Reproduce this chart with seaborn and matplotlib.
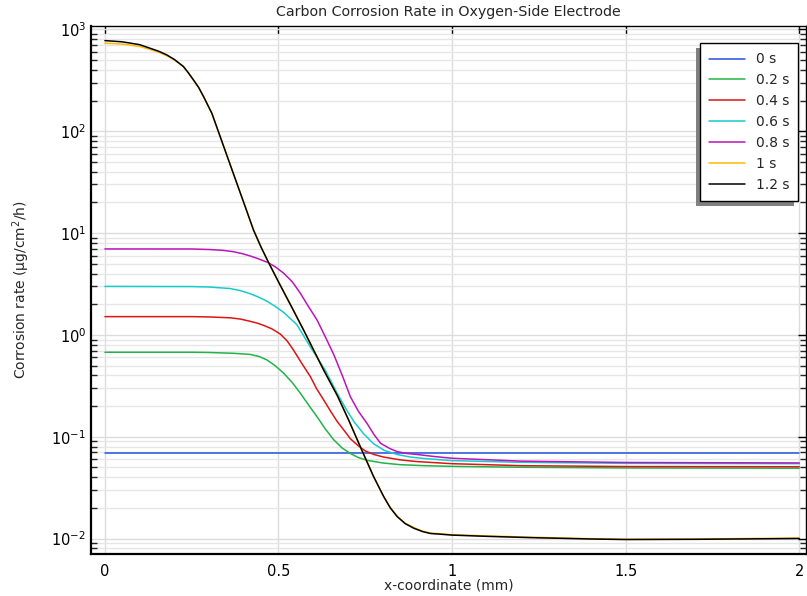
import numpy as np
import pandas as pd
import matplotlib
matplotlib.use('Agg')
import matplotlib.pyplot as plt
import matplotlib.ticker as mticker
from matplotlib.patches import Rectangle
import seaborn as sns

# values (x in mm, rate in ug/cm2/h)
labels = ['0 s', '0.2 s', '0.4 s', '0.6 s', '0.8 s', '1 s', '1.2 s']
colors = ['#2450e0', '#22b448', '#dd1515', '#15cccc', '#bb15bb', '#ffbb00', '#000000']

x_0 = [0.0, 2.0]
rate_0 = [0.069, 0.069]

x_02 = [0, 0.25, 0.30, 0.37, 0.418, 0.445, 0.467, 0.49, 0.515, 0.54, 0.563, 0.587, 0.611, 0.635,
        0.659, 0.683, 0.707, 0.73, 0.755, 0.80, 0.85, 0.92, 1.0, 1.2, 1.5, 2.0]
rate_02 = [0.675, 0.675, 0.671, 0.659, 0.643, 0.612, 0.566, 0.499, 0.420, 0.339, 0.267, 0.204,
           0.157, 0.119, 0.0933, 0.0776, 0.0684, 0.0624, 0.0586, 0.0552, 0.0531, 0.0519, 0.0511,
           0.0501, 0.0493, 0.0490]

x_04 = [0, 0.25, 0.30, 0.361, 0.39, 0.418, 0.44, 0.457, 0.48, 0.505, 0.525, 0.543, 0.567, 0.592,
        0.61, 0.630, 0.65, 0.669, 0.69, 0.707, 0.73, 0.750, 0.775, 0.803, 0.85, 0.9, 1.0, 1.2,
        1.5, 2.0]
rate_04 = [1.51, 1.51, 1.50, 1.47, 1.43, 1.36, 1.30, 1.24, 1.15, 1.02, 0.871, 0.711, 0.525, 0.388,
           0.295, 0.230, 0.178, 0.141, 0.114, 0.0955, 0.0813, 0.0724, 0.0668, 0.0631, 0.0592,
           0.0569, 0.0543, 0.0519, 0.0509, 0.0507]

x_06 = [0, 0.25, 0.30, 0.361, 0.39, 0.418, 0.44, 0.467, 0.49, 0.515, 0.553, 0.592, 0.635, 0.67,
        0.695, 0.717, 0.745, 0.774, 0.805, 0.842, 0.88, 0.92, 1.0, 1.2, 1.5, 2.0]
rate_06 = [2.99, 2.98, 2.95, 2.85, 2.72, 2.54, 2.37, 2.14, 1.91, 1.66, 1.26, 0.759, 0.447, 0.263,
           0.186, 0.141, 0.107, 0.0851, 0.0733, 0.0668, 0.0631, 0.0610, 0.0582, 0.0560, 0.0547,
           0.0543]

x_08 = [0, 0.25, 0.30, 0.34, 0.37, 0.395, 0.418, 0.44, 0.468, 0.49, 0.515, 0.54, 0.563, 0.585,
        0.611, 0.635, 0.66, 0.685, 0.707, 0.73, 0.755, 0.775, 0.794, 0.82, 0.842, 0.87, 0.9, 0.95,
        1.0, 1.2, 1.5, 2.0]
rate_08 = [6.98, 6.97, 6.89, 6.76, 6.56, 6.28, 5.96, 5.62, 5.16, 4.68, 4.03, 3.31, 2.56, 1.93, 1.40,
           0.955, 0.631, 0.389, 0.247, 0.178, 0.135, 0.105, 0.0861, 0.0767, 0.0713, 0.0684, 0.0668,
           0.0638, 0.0614, 0.0575, 0.0558, 0.0552]

x_12 = [0, 0.05, 0.1, 0.13, 0.155, 0.178, 0.2, 0.226, 0.24, 0.255, 0.27, 0.284, 0.308, 0.332, 0.356,
        0.38, 0.404, 0.428, 0.45, 0.47, 0.50, 0.54, 0.572, 0.601, 0.63, 0.67, 0.702, 0.741, 0.774,
        0.803, 0.822, 0.842, 0.865, 0.89, 0.915, 0.938, 0.97, 1.0, 1.1, 1.227, 1.4, 1.5, 1.7, 2.0]
rate_12 = [776, 755, 708, 653, 610, 562, 507, 432, 376, 319, 269, 219, 150, 88.5, 52.2, 30.8, 18.2,
           10.7, 7.24, 5.25, 3.31, 1.82, 1.12, 0.711, 0.452, 0.251, 0.146, 0.0724, 0.0405, 0.0258,
           0.0200, 0.0164, 0.0140, 0.0126, 0.0117, 0.0112, 0.0110, 0.0108, 0.0105, 0.0102,
           0.00989, 0.00977, 0.00982, 0.0100]

x_10 = x_12
rate_10 = [731, 718, 680, 635, 597, 552, 500, 432, 376, 319, 269, 219, 150, 88.5, 52.2, 30.8, 18.2,
           10.7, 7.24, 5.25, 3.31, 1.82, 1.12, 0.711, 0.452, 0.251, 0.146, 0.0724, 0.0405, 0.0258,
           0.0201, 0.0165, 0.0141, 0.0128, 0.0118, 0.0113, 0.0111, 0.0109, 0.0106, 0.0103,
           0.00995, 0.00985, 0.00988, 0.0101]

series = [(x_0, rate_0), (x_02, rate_02), (x_04, rate_04), (x_06, rate_06),
          (x_08, rate_08), (x_10, rate_10), (x_12, rate_12)]

frames = []
for lab, (xs, ys) in zip(labels, series):
    frames.append(pd.DataFrame({'x': xs, 'rate': ys, 'time': lab}))
df = pd.concat(frames, ignore_index=True)

sns.set_style('white')
plt.rcParams['font.family'] = ['DejaVu Sans']
plt.rcParams['axes.unicode_minus'] = False

fig = plt.figure(figsize=(8.07, 5.96), dpi=100)
ax = fig.add_axes([0.1128, 0.0705, 0.8862, 0.886])

ax.set_yscale('log')
ax.grid(True, which='major', color='#dcdcdc', lw=1.0)
ax.grid(True, which='minor', color='#e6e6e6', lw=1.0)
ax.set_axisbelow(True)

sns.lineplot(data=df, x='x', y='rate', hue='time', hue_order=labels,
             palette=dict(zip(labels, colors)), estimator=None, sort=False,
             linewidth=1.1, ax=ax)

ax.set_xlim(-0.04, 2.02)
ax.set_ylim(10 ** -2.152, 10 ** 3.034)
ax.set_xticks([0, 0.5, 1, 1.5, 2])
ax.xaxis.set_major_formatter(mticker.FuncFormatter(lambda v, p: f'{v:g}'))
ax.yaxis.set_major_locator(mticker.LogLocator(base=10, numticks=10))
ax.yaxis.set_minor_locator(mticker.LogLocator(base=10, subs=np.arange(2, 10), numticks=10))
ax.yaxis.set_minor_formatter(mticker.NullFormatter())

ax.tick_params(axis='both', which='major', direction='in', length=6, width=1,
               labelsize=10.5, top=True, right=True, colors='black')
ax.tick_params(axis='y', which='minor', direction='in', length=4, width=1, right=True, left=True)
ax.tick_params(axis='x', which='major', pad=7)

for side in ['left', 'bottom', 'top', 'right']:
    ax.spines[side].set_visible(True)
    ax.spines[side].set_color('black')
ax.spines['left'].set_linewidth(1.6)
ax.spines['bottom'].set_linewidth(1.6)
ax.spines['top'].set_linewidth(1.0)
ax.spines['right'].set_linewidth(1.0)

ax.set_title('Carbon Corrosion Rate in Oxygen-Side Electrode', fontsize=10.3, pad=7)
ax.set_xlabel('x-coordinate (mm)', fontsize=10, labelpad=0)
ax.set_ylabel('Corrosion rate (µg/cm$^2$/h)', fontsize=10, labelpad=14)

handles, labs = ax.get_legend_handles_labels()
leg = ax.legend(handles, labs, loc='upper right', bbox_to_anchor=(0.989, 0.967),
                borderaxespad=0, fontsize=10, frameon=True, fancybox=False,
                shadow=False, handlelength=2.6,
                labelspacing=0.5, borderpad=0.65, handletextpad=0.8)
leg.get_frame().set_edgecolor('black')
leg.get_frame().set_linewidth(1.0)
leg.get_frame().set_alpha(1)
for line in leg.get_lines():
    line.set_linewidth(1.1)

# gray shadow down and to the left of the legend box
fig.canvas.draw()
bb = leg.get_window_extent().transformed(fig.transFigure.inverted())
dx, dy = 4 / fig.bbox.width, 5 / fig.bbox.height
ax.add_patch(Rectangle((bb.x0 - dx, bb.y0 - dy), bb.width, bb.height,
                       transform=fig.transFigure, facecolor='#808080', edgecolor='none',
                       zorder=4.9, clip_on=False))

fig.savefig('out.png', dpi=100)
